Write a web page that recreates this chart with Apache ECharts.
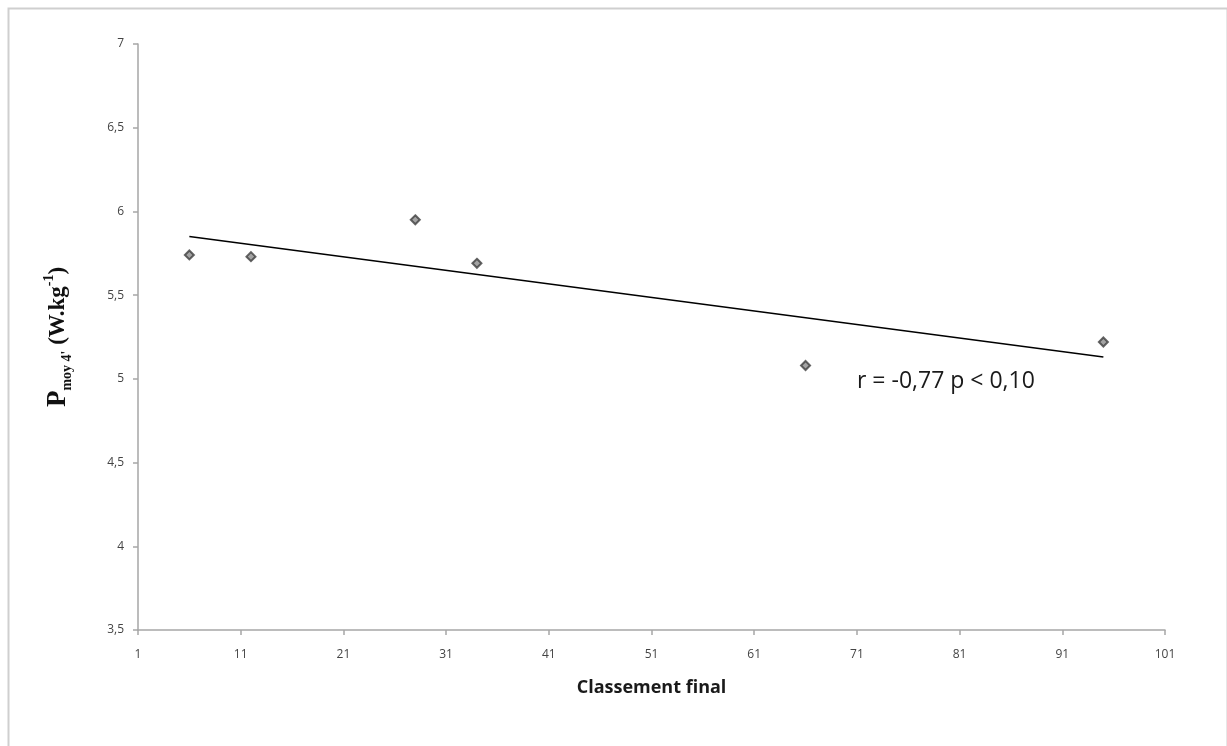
<!DOCTYPE html>
<html>
<head>
<meta charset="utf-8">
<script src="https://cdn.jsdelivr.net/npm/echarts@6/dist/echarts.min.js"></script>
<style>
html,body{margin:0;padding:0;background:#fff;}
#chart{width:1227px;height:746px;}
</style>
</head>
<body>
<div id="chart"></div>
<script>
// Data
const rankX = [6, 12, 28, 34, 66, 95];
const powerY = [5.74, 5.73, 5.95, 5.69, 5.08, 5.22];
const trendX = [6, 95];
const trendY = [5.85, 5.13];
const xTicks = [1, 11, 21, 31, 41, 51, 61, 71, 81, 91, 101];
const yTicks = [3.5, 4, 4.5, 5, 5.5, 6, 6.5, 7];
const xAxisTitle = 'Classement final';
const annotation = 'r = -0,77 p < 0,10';

const chart = echarts.init(document.getElementById('chart'), null, {renderer: 'canvas'});
const fmt = v => String(v).replace('.', ',');
chart.setOption({
  animation: false,
  backgroundColor: '#fff',
  grid: {left: 138, right: 62, top: 44, bottom: 116, containLabel: false},
  xAxis: {
    type: 'value', min: xTicks[0], max: xTicks[xTicks.length - 1], interval: 10,
    name: xAxisTitle, nameLocation: 'middle', nameGap: 49,
    nameTextStyle: {fontFamily: 'Open Sans', fontWeight: 'bold', fontSize: 18, color: '#1a1a1a'},
    axisLine: {show: true, lineStyle: {color: '#a6a6a6', width: 1.5}},
    axisTick: {show: true, length: 5, lineStyle: {color: '#a6a6a6', width: 1.5}},
    axisLabel: {color: '#444', fontFamily: 'Open Sans', fontSize: 12, margin: 19, formatter: fmt},
    splitLine: {show: false}
  },
  yAxis: {
    type: 'value', min: yTicks[0], max: yTicks[yTicks.length - 1], interval: 0.5,
    name: '{P|P}{sub|moy 4\'}{main| (W.kg}{sup|-1}{main|)}',
    nameLocation: 'middle', nameGap: 64, nameRotate: 90,
    nameTextStyle: {
      fontFamily: 'Liberation Serif', fontWeight: 'bold', color: '#111',
      rich: {
        P: {fontFamily: 'Liberation Serif', fontWeight: 'bold', fontSize: 27, lineHeight: 32, verticalAlign: 'middle', color: '#111'},
        main: {fontFamily: 'Liberation Serif', fontWeight: 'bold', fontSize: 23, lineHeight: 32, verticalAlign: 'middle', color: '#111'},
        sub: {fontFamily: 'Liberation Serif', fontWeight: 'bold', fontSize: 14, lineHeight: 32, verticalAlign: 'bottom', color: '#111'},
        sup: {fontFamily: 'Liberation Serif', fontWeight: 'bold', fontSize: 14, lineHeight: 32, verticalAlign: 'top', color: '#111'}
      }
    },
    axisLine: {show: true, lineStyle: {color: '#a6a6a6', width: 1.5}},
    axisTick: {show: true, length: 5, lineStyle: {color: '#a6a6a6', width: 1.5}},
    axisLabel: {color: '#444', fontFamily: 'Open Sans', fontSize: 12, margin: 14, formatter: fmt},
    splitLine: {show: false}
  },
  graphic: [
    {type: 'rect', left: 6, top: 6, shape: {width: 1219, height: 760}, style: {fill: 'none', stroke: '#cfcfcf', lineWidth: 2}, silent: true},
    {type: 'text', left: 857, top: 370, style: {text: annotation, fontFamily: 'Open Sans', fontSize: 23, fill: '#1a1a1a'}}
  ],
  series: [
    {
      type: 'line', data: trendX.map((x, i) => [x, trendY[i]]),
      symbol: 'none', lineStyle: {color: '#000', width: 1.5}, z: 2
    },
    {
      type: 'scatter', data: rankX.map((x, i) => [x, powerY[i]]),
      symbol: 'diamond', symbolSize: 9,
      itemStyle: {color: '#8c8c8c', borderColor: '#3f3f3f', borderWidth: 2},
      z: 3
    }
  ]
});
</script>
</body>
</html>
